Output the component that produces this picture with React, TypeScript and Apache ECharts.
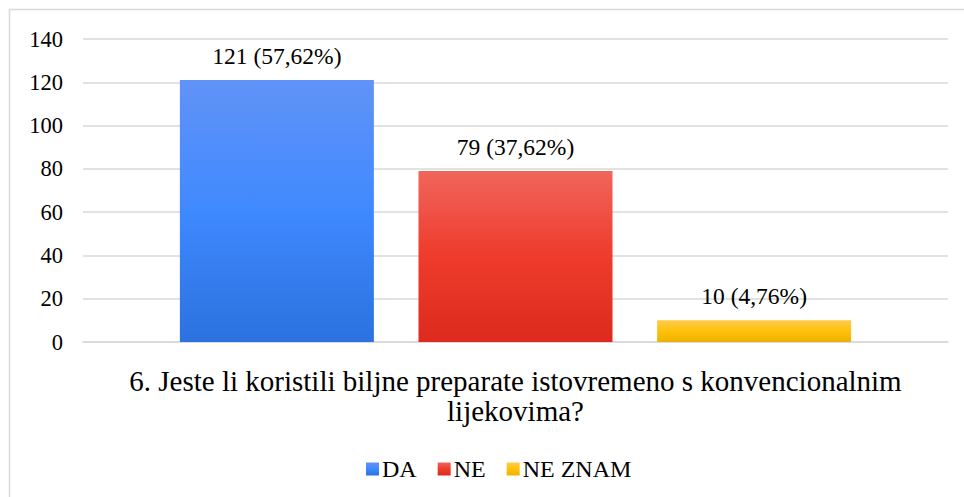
import React, { useEffect, useRef } from "react";
import * as echarts from "echarts";

const categories = ["6. Jeste li koristili biljne preparate istovremeno s konvencionalnim\nlijekovima?"];
const seriesNames = ["DA", "NE", "NE ZNAM"];
const seriesValues = [121, 79, 10];
const seriesPercents = ["57,62%", "37,62%", "4,76%"];
const gradients = [
  ["#6193F7", "#3F89FF", "#2B72DF"],
  ["#F0655B", "#EE3B2C", "#DC2B1E"],
  ["#FFCB4A", "#FFC10A", "#EDB200"],
];
const yTicks = { min: 0, max: 140, interval: 20 };

const FONT = "'Times New Roman', 'Liberation Serif', serif";

export default function App() {
  const ref = useRef<HTMLDivElement>(null);
  useEffect(() => {
    document.body.style.margin = "0";
    const chart = echarts.init(ref.current!, null, { renderer: "svg" });
    const series = seriesNames.map((name, i) => ({
      name,
      type: "bar",
      data: [seriesValues[i]],
      barWidth: 194,
      barGap: "23%",
      itemStyle: {
        color: new echarts.graphic.LinearGradient(0, 0, 0, 1, [
          { offset: 0, color: gradients[i][0] },
          { offset: 0.5, color: gradients[i][1] },
          { offset: 1, color: gradients[i][2] },
        ]),
      },
      label: {
        show: true,
        position: "top",
        distance: 12,
        formatter: () => `${seriesValues[i]} (${seriesPercents[i]})`,
        fontFamily: FONT,
        fontSize: 23.5,
        color: "#000",
      },
    }));
    chart.setOption({
      animation: false,
      backgroundColor: "#fff",
      textStyle: { fontFamily: FONT },
      graphic: [
        {
          type: "rect",
          shape: { x: 9.5, y: 9.5, width: 1200, height: 1200 },
          style: { fill: "none", stroke: "#d9d9d9", lineWidth: 1.5 },
          silent: true,
        },
      ],
      grid: { left: 83, right: 16, top: 39, bottom: 155 },
      legend: {
        data: seriesNames,
        top: 452,
        left: 361,
        itemWidth: 13,
        itemHeight: 13,
        itemGap: 21,
        icon: "rect",
        textStyle: { fontFamily: FONT, fontSize: 24, color: "#000", padding: [0, 0, 0, -2] },
      },
      xAxis: {
        type: "category",
        data: [""],
        name: categories[0],
        nameLocation: "middle",
        nameGap: 24,
        nameTextStyle: { fontFamily: FONT, fontSize: 29, color: "#000", lineHeight: 30, verticalAlign: "top" },
        axisLine: { lineStyle: { color: "#d9d9d9", width: 1.5 } },
        axisTick: { show: false },
        axisLabel: { show: false },
      },
      yAxis: {
        type: "value",
        min: yTicks.min,
        max: yTicks.max,
        interval: yTicks.interval,
        axisLine: { show: false },
        axisTick: { show: false },
        splitLine: { lineStyle: { color: "#d9d9d9", width: 1.5 } },
        axisLabel: { fontFamily: FONT, fontSize: 22.5, color: "#000", margin: 20 },
      },
      series,
    });
    return () => chart.dispose();
  }, []);
  return <div ref={ref} style={{ width: 964, height: 497 }} />;
}
